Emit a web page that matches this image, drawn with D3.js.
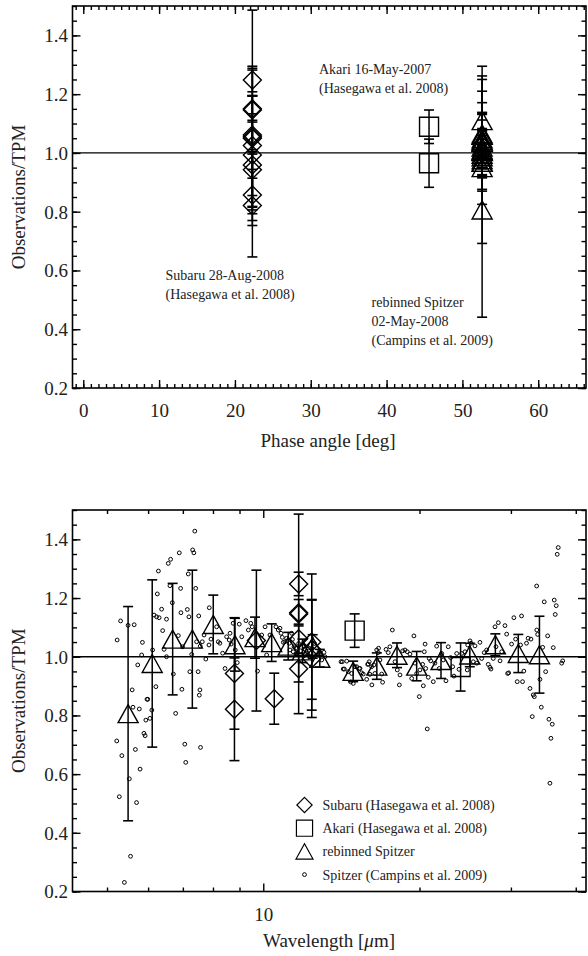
<!DOCTYPE html>
<meta charset="utf-8">
<style>
body { margin: 0; background: #fff; }
svg text { font-family: "Liberation Serif", "Times New Roman", "DejaVu Serif", serif; fill: #222; }
</style>
<svg width="588" height="956"></svg>
<script src="https://d3js.org/d3.v7.min.js"></script>
<script>

// Subaru (Hasegawa et al. 2008): wavelength [um], Observations/TPM, 1-sigma error
var subaruWave  = [8.8, 8.8, 9.7, 10.5, 11.7, 11.7, 11.7, 11.7, 11.7, 12.4, 12.4, 12.4];
var subaruRatio = [0.943, 0.821, 1.055, 0.857, 1.248, 1.146, 1.150, 1.061, 0.959, 1.050, 1.025, 0.993];
var subaruErr   = [0.190, 0.175, 0.240, 0.087, 0.040, 0.340, 0.045, 0.050, 0.045, 0.232, 0.170, 0.200];
var subaruPhase = 22.3;

// Akari (Hasegawa et al. 2008)
var akariWave  = [15.0, 24.0];
var akariRatio = [1.089, 0.965];
var akariErr   = [0.057, 0.082];
var akariPhase = 45.6;

// rebinned Spitzer
var rebinWave  = [5.49, 6.11, 6.69, 7.30, 8.01, 8.82, 9.64, 10.38, 11.17, 11.9, 12.45, 12.85,
                  14.9, 16.55, 18.1, 19.75, 22.0, 25.0, 28.0, 31.0, 34.05];
var rebinRatio = [0.806, 0.977, 1.060, 1.060, 1.110, 1.041, 1.065, 1.048, 1.036, 1.020, 1.035, 0.995,
                  0.950, 0.968, 1.005, 0.968, 0.987, 1.006, 1.041, 1.011, 1.007];
var rebinErr   = [0.365, 0.285, 0.190, 0.235, 0.100, 0.090, 0.070, 0.064, 0.047, 0.040, 0.040, 0.030,
                  0.035, 0.045, 0.042, 0.050, 0.061, 0.040, 0.037, 0.065, 0.131];
var spitzerPhase = 52.6;

// Spitzer spectrum (Campins et al. 2009)
var specWave = [5.23, 5.31, 5.49, 5.64, 5.85, 5.83, 5.73, 5.59, 5.61, 5.77, 5.97, 5.99, 5.94, 6.05, 6.10,
  5.89, 5.92, 5.22, 5.34, 5.67, 5.79, 5.52, 5.28, 5.70, 5.55, 5.40, 7.06, 7.09, 7.57,
  6.12, 6.21, 6.16, 6.23, 6.30, 6.37, 6.40, 6.28, 6.25, 6.44, 6.51, 6.51, 6.56, 6.63, 6.61, 6.68,
  6.71, 6.78, 6.86, 6.89, 6.93, 6.94, 6.97, 6.99, 7.14, 7.17, 7.19, 7.22, 7.28, 7.31, 7.35, 7.38,
  7.41, 7.44, 7.49, 7.51, 7.55, 7.53, 7.56, 7.63, 7.75, 7.69, 7.87, 7.86, 7.93, 8.13, 8.19, 8.25,
  8.35, 8.44, 8.50, 8.60, 8.63, 8.67, 8.75, 8.83, 8.91, 8.99, 9.09, 9.26, 9.36, 9.46, 9.52, 9.75,
  9.93, 10.08, 10.15, 10.30, 10.58, 10.69, 10.82, 10.93, 11.09, 11.22, 11.34, 11.42, 11.55,
  10.77, 10.88, 11.01, 11.26, 11.38, 11.46, 11.60, 11.70, 11.80, 11.98, 12.12, 12.22, 12.30, 12.40,
  12.55, 12.67, 12.82, 12.96, 13.09, 13.15,
  14.20, 14.33, 14.48, 14.58, 14.80, 15.14, 15.36, 15.47, 15.93, 16.17, 16.41, 16.54, 16.68,
  14.12, 14.26, 14.74, 14.91, 15.02, 15.31, 15.58, 15.82, 15.89, 16.00, 16.05, 16.19, 16.34, 16.65,
  16.78, 16.91, 16.98, 17.24, 17.41, 17.54, 17.73, 17.94, 18.12, 18.29, 18.34, 18.56, 18.75, 18.94,
  19.17, 19.32, 19.51, 19.60, 19.75, 19.98, 20.04, 20.28, 20.34, 20.43, 20.50, 20.56, 20.70, 20.79,
  20.88, 21.02, 21.26, 21.42, 21.58, 21.83, 22.07, 22.22, 22.49, 22.72, 22.96, 23.17, 23.30, 23.59,
  23.83, 24.11, 24.47, 24.72, 24.77, 25.02, 25.13, 25.39, 25.58, 25.78, 26.15, 26.35, 26.65, 26.94,
  27.13, 27.34, 27.46, 27.74, 27.96, 28.08, 28.37, 28.59, 28.80, 29.22, 29.44, 29.57, 29.70, 30.09,
  30.40, 30.63, 30.85, 31.45, 31.31, 31.59, 31.77, 32.15, 32.38, 32.65, 32.79, 32.98, 33.13, 33.28,
  33.63, 33.65, 33.78, 34.13, 34.33, 34.54, 34.78, 35.00, 35.31, 35.51, 35.67, 35.83, 36.04, 36.20,
  36.36, 36.52, 36.68, 36.84, 37.01, 37.58, 37.75];
var specRatio = [1.057, 1.122, 1.107, 1.109, 1.049, 1.006, 0.972, 0.887, 0.828, 0.822, 0.855, 0.855, 0.784, 0.790, 0.818,
  0.739, 0.731, 0.713, 0.663, 0.684, 0.617, 0.584, 0.523, 0.503, 0.320, 0.231, 0.702, 0.640, 0.691,
  1.023, 0.898, 1.142, 1.136, 1.133, 1.162, 1.089, 1.292, 1.214, 1.025, 1.128, 1.000, 1.318, 1.332, 1.242, 1.184,
  0.941, 0.807, 1.072, 1.354, 1.233, 1.150, 0.889, 1.034, 1.161, 1.282, 1.136, 0.949, 1.008, 1.364, 1.354, 1.428,
  1.233, 1.051, 0.949, 1.139, 0.887, 0.869, 1.036, 1.051, 0.992, 1.074, 1.167, 1.040, 1.060, 1.102, 1.051, 1.046,
  1.012, 0.960, 1.068, 1.057, 1.080, 1.043, 1.114, 1.023, 0.980, 1.111, 1.068, 1.123, 1.091, 1.114, 1.102, 0.951,
  1.074, 1.102, 1.006, 1.074, 1.102, 1.091, 1.080, 1.049, 1.063, 1.046, 1.080, 1.017, 1.029,
  1.097, 1.066, 1.051, 1.023, 1.059, 1.034, 1.011, 1.045, 1.020, 1.037, 1.011, 1.030, 1.000, 1.029,
  1.045, 1.006, 1.017, 0.989, 1.015, 1.000,
  0.983, 0.958, 0.985, 0.949, 0.943, 0.966, 0.960, 0.945, 0.975, 0.966, 0.943, 1.023, 1.029,
  0.983, 0.958, 0.914, 0.909, 0.966, 0.960, 0.941, 0.923, 0.974, 0.983, 0.940, 0.904, 0.972, 1.014,
  0.989, 0.941, 0.913, 1.025, 1.014, 1.034, 1.091, 0.983, 0.955, 0.904, 0.938, 1.020, 1.023, 1.017,
  1.009, 0.926, 1.071, 0.978, 0.943, 0.864, 0.955, 0.974, 0.901, 1.017, 1.043, 0.960, 0.754, 0.930,
  0.994, 0.986, 0.915, 0.978, 1.036, 0.960, 1.011, 0.989, 0.918, 1.034, 0.997, 0.966, 0.934, 1.011,
  0.957, 1.011, 1.017, 0.955, 1.040, 1.054, 1.046, 0.983, 1.037, 0.978, 1.049, 0.994, 1.014, 1.023,
  0.974, 0.964, 0.958, 0.994, 1.102, 1.034, 1.116, 0.986, 1.017, 1.106, 1.077, 0.943, 0.945, 1.043,
  1.133, 1.060, 0.915, 1.139, 1.040, 0.915, 0.951, 1.046, 1.063, 0.892, 1.060, 0.796, 0.870, 0.864,
  1.241, 1.091, 1.076, 0.923, 0.828, 1.032, 1.187, 0.949, 1.071, 0.787, 0.569, 0.722, 0.770, 1.031,
  1.193, 1.144, 1.174, 1.349, 1.372, 0.978, 0.986];

var yMajor = [0.2, 0.4, 0.6, 0.8, 1.0, 1.2, 1.4];
var phaseMajor = [0, 10, 20, 30, 40, 50, 60];
var waveMajor = [10];
var waveMinor = [5, 6, 7, 8, 9, 20, 30, 40];

var svg = d3.select("svg");
var left = 72.5, right = 586;

function build(top, bottom, x, majorX, minorX, labelX) {
  var g = svg.append("g");
  var y = d3.scaleLinear().domain([0.2, 1.5]).range([bottom, top]);
  var yMinor = d3.range(0.2, 1.5001, 0.05);

  function axis(gen, pos, size, values, fmt) {
    var a = gen.tickValues(values).tickSizeInner(-size).tickSizeOuter(0).tickPadding(4.5);
    a.tickFormat(fmt || "");
    var ga = g.append("g").attr("transform", pos).call(a);
    ga.select(".domain").remove();
    ga.selectAll("line").attr("stroke", "#000").attr("stroke-width", 1.4);
    return ga;
  }
  // minor ticks
  axis(d3.axisLeft(y), "translate(" + left + ",0)", 4.5, yMinor);
  axis(d3.axisRight(y), "translate(" + right + ",0)", 4.5, yMinor);
  axis(d3.axisBottom(x), "translate(0," + bottom + ")", 4, minorX);
  axis(d3.axisTop(x), "translate(0," + top + ")", 4, minorX);
  // major ticks
  var gl = axis(d3.axisLeft(y), "translate(" + left + ",0)", 8, yMajor, d3.format(".1f"));
  axis(d3.axisRight(y), "translate(" + right + ",0)", 8, yMajor);
  var gb = axis(d3.axisBottom(x), "translate(0," + bottom + ")", 8, majorX, labelX);
  axis(d3.axisTop(x), "translate(0," + top + ")", 8, majorX);
  gl.selectAll("text").attr("font-size", 19).attr("dy", "0.34em");
  gb.selectAll("text").attr("font-size", 19).attr("y", 0).attr("dy", 29);

  g.append("rect").attr("x", left).attr("y", top).attr("width", right - left).attr("height", bottom - top)
    .attr("fill", "none").attr("stroke", "#000").attr("stroke-width", 1.6);
  g.append("line").attr("x1", left).attr("x2", right).attr("y1", y(1)).attr("y2", y(1))
    .attr("stroke", "#000").attr("stroke-width", 1.3);

  g.append("text").attr("transform", "translate(25," + (top + bottom) / 2 + ") rotate(-90)")
    .attr("text-anchor", "middle").attr("font-size", 19).text("Observations/TPM");
  return {g: g, y: y};
}

var diamond = "M0,-9L9,0L0,9L-9,0Z",
    square = "M-9.5,-9.5H9.5V9.5H-9.5Z",
    triangle = "M0,-9L10,9L-10,9Z";

function errorBars(g, xs, vals, errs, y) {
  xs.forEach(function(px, i) {
    var lo = y(vals[i] - errs[i]), hi = y(vals[i] + errs[i]);
    g.append("line").attr("x1", px).attr("x2", px).attr("y1", lo).attr("y2", hi)
      .attr("stroke", "#000").attr("stroke-width", 1.5);
    [lo, hi].forEach(function(c) {
      g.append("line").attr("x1", px - 5).attr("x2", px + 5).attr("y1", c).attr("y2", c)
        .attr("stroke", "#000").attr("stroke-width", 1.6);
    });
  });
}
function markers(g, xs, vals, y, shape) {
  g.selectAll(null).data(vals).enter().append("path")
    .attr("d", shape)
    .attr("transform", function(d, i) { return "translate(" + xs[i] + "," + y(d) + ")"; })
    .attr("fill", "none").attr("stroke", "#000").attr("stroke-width", 1.4);
}

// ---------- top panel: phase angle ----------
var xPhase = d3.scaleLinear().domain([-1.42, 66.3]).range([left, right]);
var topP = build(6, 388, xPhase, phaseMajor, d3.range(-1, 67, 1), d3.format("d"));
var gt = topP.g, yT = topP.y;

errorBars(gt, subaruRatio.map(function() { return xPhase(subaruPhase); }), subaruRatio, subaruErr, yT);
errorBars(gt, akariRatio.map(function() { return xPhase(akariPhase); }), akariRatio, akariErr, yT);
errorBars(gt, rebinRatio.map(function() { return xPhase(spitzerPhase); }), rebinRatio, rebinErr, yT);
markers(gt, subaruRatio.map(function() { return xPhase(subaruPhase); }), subaruRatio, yT, diamond);
markers(gt, akariRatio.map(function() { return xPhase(akariPhase); }), akariRatio, yT, square);
markers(gt, rebinRatio.map(function() { return xPhase(spitzerPhase); }), rebinRatio, yT, triangle);

gt.append("text").attr("x", 328).attr("y", 447).attr("text-anchor", "middle")
  .attr("font-size", 19).text("Phase angle [deg]");

function note(g, x, y0, lines) {
  var t = g.append("text").attr("font-size", 14);
  lines.forEach(function(s, i) {
    t.append("tspan").attr("x", x).attr("y", y0 + i * 19).text(s);
  });
}
note(gt, 319, 74, ["Akari 16-May-2007", "(Hasegawa et al. 2008)"]);
note(gt, 165.5, 280, ["Subaru 28-Aug-2008", "(Hasegawa et al. 2008)"]);
note(gt, 371.5, 307, ["rebinned Spitzer", "02-May-2008", "(Campins et al. 2009)"]);

// ---------- bottom panel: wavelength ----------
var xWave = d3.scaleLog().domain([4.29, 41.86]).range([left, right]);
var botP = build(510, 891.5, xWave, waveMajor, waveMinor, d3.format("d"));
var gw = botP.g, yB = botP.y;

gw.selectAll("circle.spec").data(specRatio).enter().append("circle")
  .attr("cx", function(d, i) { return xWave(specWave[i]); })
  .attr("cy", function(d) { return yB(d); })
  .attr("r", 1.9).attr("fill", "none").attr("stroke", "#000").attr("stroke-width", 1);

errorBars(gw, subaruWave.map(xWave), subaruRatio, subaruErr, yB);
errorBars(gw, akariWave.map(xWave), akariRatio, akariErr, yB);
errorBars(gw, rebinWave.map(xWave), rebinRatio, rebinErr, yB);
markers(gw, subaruWave.map(xWave), subaruRatio, yB, diamond);
markers(gw, akariWave.map(xWave), akariRatio, yB, square);
markers(gw, rebinWave.map(xWave), rebinRatio, yB, triangle);

var wl = gw.append("text").attr("x", 329).attr("y", 947).attr("text-anchor", "middle")
  .attr("font-size", 19);
wl.append("tspan").text("Wavelength [");
wl.append("tspan").attr("font-style", "italic").text("\u03bc");
wl.append("tspan").text("m]");

// legend
var legend = [
  {shape: diamond, label: "Subaru (Hasegawa et al. 2008)"},
  {shape: square, label: "Akari (Hasegawa et al. 2008)"},
  {shape: triangle, label: "rebinned Spitzer"},
  {shape: null, label: "Spitzer (Campins et al. 2009)"}
];
var lg = gw.selectAll("g.leg").data(legend).enter().append("g")
  .attr("transform", function(d, i) { return "translate(304.5," + (805 + i * 23.2) + ")"; });
lg.each(function(d) {
  var s = d3.select(this);
  if (d.shape) s.append("path").attr("d", d.shape).attr("transform", "scale(0.85)")
    .attr("fill", "none").attr("stroke", "#000").attr("stroke-width", 1.4);
  else s.append("circle").attr("r", 1.9).attr("fill", "none").attr("stroke", "#000");
});
lg.append("text").attr("x", 18).attr("y", 5).attr("font-size", 14)
  .text(function(d) { return d.label; });

</script>
